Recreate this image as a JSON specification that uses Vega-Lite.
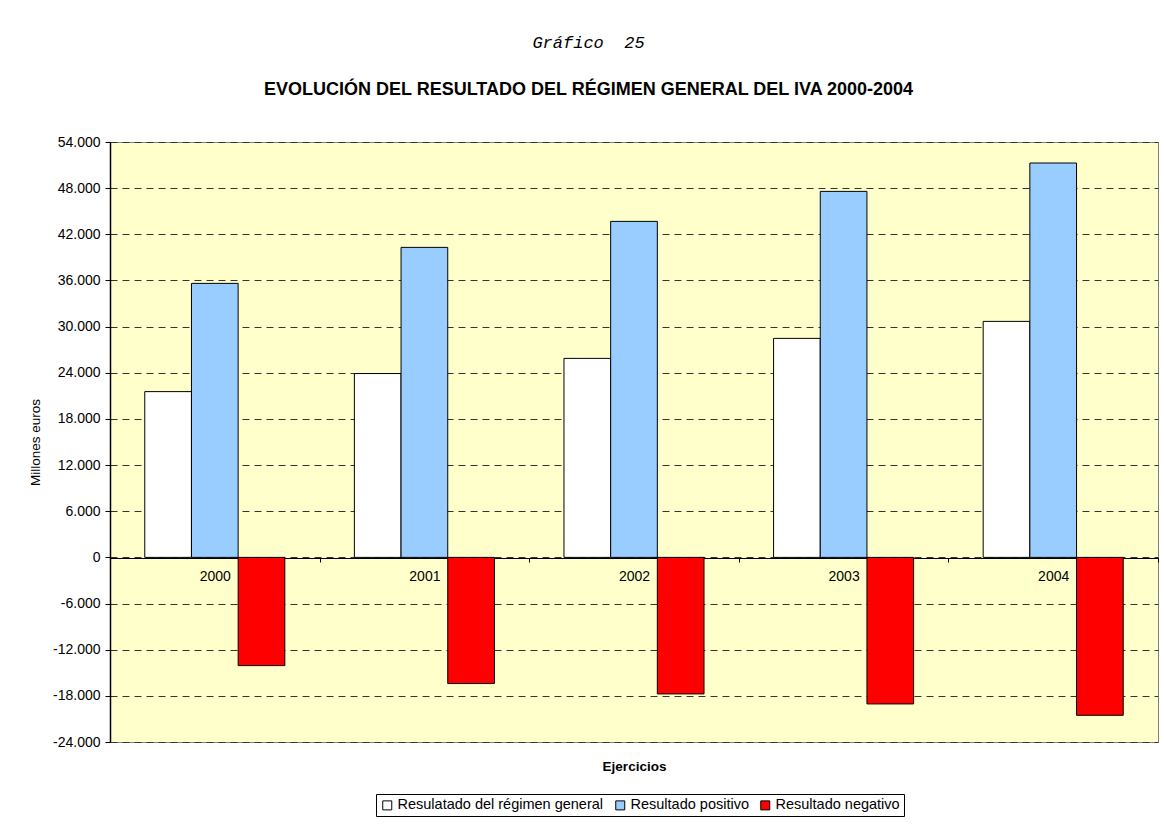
{
  "$schema": "https://vega.github.io/schema/vega-lite/v6.json",
  "autosize": {"type": "none"},
  "padding": {"left": 110, "top": 142, "right": 6, "bottom": 83},
  "width": 1048,
  "height": 600,
  "background": "white",
  "title": {
    "text": "Gráfico\u00a0\u00a025",
    "subtitle": "EVOLUCIÓN DEL RESULTADO DEL RÉGIMEN GENERAL DEL IVA 2000-2004",
    "anchor": "middle",
    "frame": "bounds",
    "dx": -5,
    "font": "Liberation Mono",
    "fontStyle": "italic",
    "fontWeight": "normal",
    "fontSize": 17,
    "color": "#000000",
    "subtitleFont": "Liberation Sans",
    "subtitleFontWeight": "bold",
    "subtitleFontSize": 18,
    "subtitleColor": "#000000",
    "subtitlePadding": 29,
    "offset": 35
  },
  "data": {
    "values": [
      {"year": "2000", "serie": "Resulatado del régimen general", "value": 21550},
      {"year": "2000", "serie": "Resultado positivo", "value": 35620},
      {"year": "2000", "serie": "Resultado negativo", "value": -14070},
      {"year": "2001", "serie": "Resulatado del régimen general", "value": 23900},
      {"year": "2001", "serie": "Resultado positivo", "value": 40300},
      {"year": "2001", "serie": "Resultado negativo", "value": -16400},
      {"year": "2002", "serie": "Resulatado del régimen general", "value": 25870},
      {"year": "2002", "serie": "Resultado positivo", "value": 43680},
      {"year": "2002", "serie": "Resultado negativo", "value": -17750},
      {"year": "2003", "serie": "Resulatado del régimen general", "value": 28470},
      {"year": "2003", "serie": "Resultado positivo", "value": 47580},
      {"year": "2003", "serie": "Resultado negativo", "value": -19050},
      {"year": "2004", "serie": "Resulatado del régimen general", "value": 30680},
      {"year": "2004", "serie": "Resultado positivo", "value": 51270},
      {"year": "2004", "serie": "Resultado negativo", "value": -20530}
    ]
  },
  "mark": {"type": "bar", "stroke": "#000000", "strokeWidth": 1},
  "encoding": {
    "x": {
      "field": "year",
      "type": "nominal",
      "scale": {"paddingInner": 0, "paddingOuter": 0},
      "axis": {
        "title": "Ejercicios",
        "titleFont": "Liberation Sans",
        "titleFontSize": 13.5,
        "titleFontWeight": "bold",
        "titleColor": "#000000",
        "titleY": 208,
        "titleBaseline": "middle",
        "offset": -184,
        "labelAngle": 0,
        "labelFont": "Liberation Sans",
        "labelFontSize": 14,
        "labelColor": "#000000",
        "labelPadding": 7,
        "tickBand": "extent",
        "tickSize": 4,
        "tickColor": "#000000",
        "domainColor": "#000000",
        "domainWidth": 1,
        "grid": false
      }
    },
    "xOffset": {
      "field": "serie",
      "type": "nominal",
      "scale": {"paddingInner": 0, "paddingOuter": 0.745},
      "sort": ["Resulatado del régimen general", "Resultado positivo", "Resultado negativo"]
    },
    "y": {
      "field": "value",
      "type": "quantitative",
      "scale": {"domain": [-24000, 54000], "nice": false, "zero": false},
      "axis": {
        "title": "Millones euros",
        "titleFont": "Liberation Sans",
        "titleFontSize": 13.5,
        "titleFontWeight": "normal",
        "titleColor": "#000000",
        "titlePadding": 10,
        "values": [-24000, -18000, -12000, -6000, 0, 6000, 12000, 18000, 24000, 30000, 36000, 42000, 48000, 54000],
        "format": ",d",
        "labelFont": "Liberation Sans",
        "labelFontSize": 14,
        "labelColor": "#000000",
        "labelPadding": 5,
        "tickSize": 5,
        "tickColor": "#000000",
        "domainColor": "#000000",
        "domainWidth": 1.5,
        "grid": true,
        "gridColor": "#333333",
        "gridDash": [7, 5],
        "gridWidth": 1
      }
    },
    "color": {
      "field": "serie",
      "type": "nominal",
      "sort": ["Resulatado del régimen general", "Resultado positivo", "Resultado negativo"],
      "scale": {
        "domain": ["Resulatado del régimen general", "Resultado positivo", "Resultado negativo"],
        "range": ["#FFFFFF", "#99CCFF", "#FF0000"]
      },
      "legend": {
        "title": null,
        "orient": "none",
        "legendX": 266,
        "legendY": 652,
        "direction": "horizontal",
        "symbolType": "square",
        "symbolSize": 81,
        "symbolStrokeColor": "#000000",
        "symbolStrokeWidth": 1,
        "labelFont": "Liberation Sans",
        "labelFontSize": 14.5,
        "labelColor": "#000000",
        "labelOffset": 3,
        "columnPadding": 9,
        "strokeColor": "#000000",
        "padding": 4,
        "fillColor": "#FFFFFF",
        "labelLimit": 400
      }
    }
  },
  "config": {
    "locale": {
      "number": {"decimal": ",", "thousands": ".", "grouping": [3], "currency": ["", " €"], "minus": "-"}
    },
    "view": {"fill": "#FFFFCC", "stroke": "#808080", "strokeWidth": 1}
  }
}
